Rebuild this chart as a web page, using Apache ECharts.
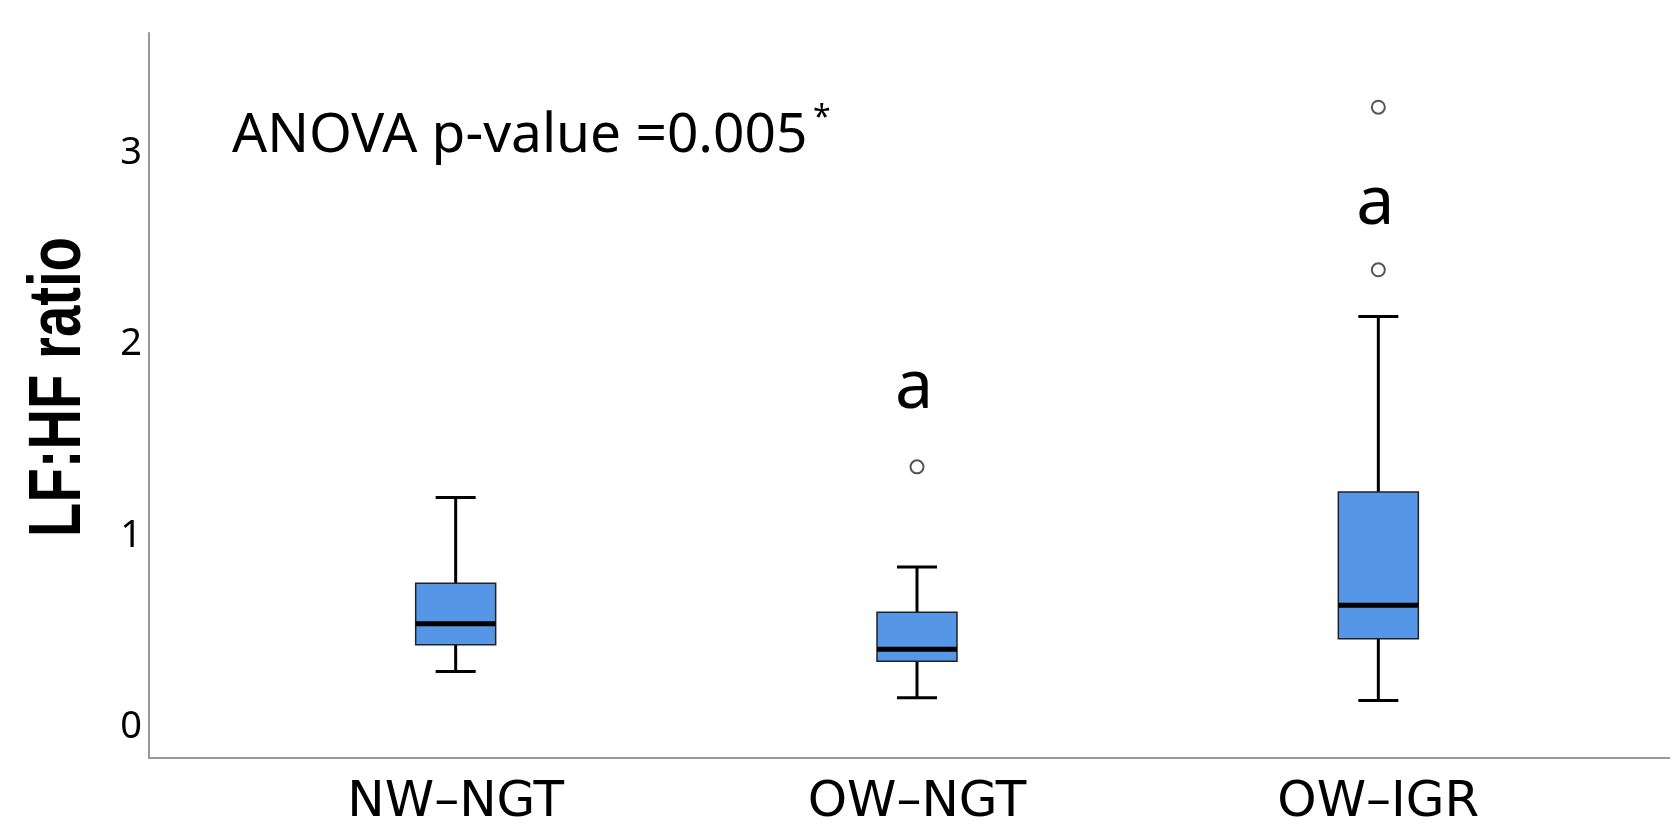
<!DOCTYPE html>
<html><head><meta charset="utf-8">
<script src="https://cdn.jsdelivr.net/npm/echarts@6/dist/echarts.min.js"></script>
<style>html,body{margin:0;padding:0;background:#fff}#chart{width:1670px;height:828px}</style>
</head><body><div id="chart"></div>
<script>
// ---- data ----
const categories = ['NW–NGT', 'OW–NGT', 'OW–IGR'];
const whiskerLow  = [0.29, 0.153, 0.139];
const q1          = [0.43, 0.344, 0.462];
const median      = [0.54, 0.407, 0.637];
const q3          = [0.752, 0.60, 1.229];
const whiskerHigh = [1.20, 0.836, 2.146];
const outliers = [['OW–NGT', 1.36], ['OW–IGR', 3.24], ['OW–IGR', 2.39]];
const letterMarks = [['OW–NGT', 1.77, 'a'], ['OW–IGR', 2.73, 'a']];
const yTicks = [0, 1, 2, 3];
const yMin = -0.162, yMax = 3.628;
const yTitle = 'LF:HF ratio';
const anovaText = 'ANOVA p-value =0.005';

// ---- chart ----
const chart = echarts.init(document.getElementById('chart'), null, {renderer: 'canvas'});
const boxData = categories.map((c, i) => [i, whiskerLow[i], q1[i], median[i], q3[i], whiskerHigh[i]]);

function renderBox(params, api) {
  const x = api.value(0);
  const pLow = api.coord([x, api.value(1)]);
  const pQ1 = api.coord([x, api.value(2)]);
  const pMed = api.coord([x, api.value(3)]);
  const pQ3 = api.coord([x, api.value(4)]);
  const pHigh = api.coord([x, api.value(5)]);
  const cx = pLow[0], half = 40, capHalf = 20;
  const ws = {stroke: '#000', lineWidth: 3};
  return {
    type: 'group',
    children: [
      {type: 'line', shape: {x1: cx, y1: pHigh[1], x2: cx, y2: pQ3[1]}, style: ws},
      {type: 'line', shape: {x1: cx, y1: pQ1[1], x2: cx, y2: pLow[1]}, style: ws},
      {type: 'line', shape: {x1: cx - capHalf, y1: pHigh[1], x2: cx + capHalf, y2: pHigh[1]}, style: ws},
      {type: 'line', shape: {x1: cx - capHalf, y1: pLow[1], x2: cx + capHalf, y2: pLow[1]}, style: ws},
      {type: 'rect', shape: {x: cx - half, y: pQ3[1], width: half * 2, height: pQ1[1] - pQ3[1]},
        style: {fill: '#5596E6', stroke: '#222', lineWidth: 1.5}},
      {type: 'line', shape: {x1: cx - half, y1: pMed[1], x2: cx + half, y2: pMed[1]},
        style: {stroke: '#000', lineWidth: 5}}
    ]
  };
}

const option = {
  backgroundColor: '#fff',
  animation: false,
  grid: [
    {left: 149, right: 0, top: 33, bottom: 70},
    {left: 225, right: 61, top: 33, bottom: 70}
  ],
  xAxis: [
    {gridIndex: 0, type: 'value', min: 0, max: 1,
      axisLine: {show: true, onZero: false, lineStyle: {color: '#999', width: 2}},
      axisTick: {show: false}, axisLabel: {show: false}, splitLine: {show: false}},
    {gridIndex: 1, type: 'category', data: categories,
      axisLine: {show: false}, axisTick: {show: false}, splitLine: {show: false},
      axisLabel: {fontFamily: 'DejaVu Sans', fontSize: 50, color: '#000', margin: 20}}
  ],
  yAxis: [
    {gridIndex: 0, type: 'value', min: yMin, max: yMax,
      axisLine: {show: true, onZero: false, lineStyle: {color: '#999', width: 2}},
      axisTick: {show: false}, splitLine: {show: false},
      axisLabel: {customValues: yTicks, fontFamily: 'Noto Sans', fontSize: 38, color: '#000', margin: 7}},
    {gridIndex: 1, type: 'value', min: yMin, max: yMax, show: false}
  ],
  series: [
    {type: 'custom', xAxisIndex: 1, yAxisIndex: 1, data: boxData, renderItem: renderBox,
      encode: {x: 0, y: [1, 2, 3, 4, 5]}, z: 2},
    {type: 'scatter', xAxisIndex: 1, yAxisIndex: 1, data: outliers, symbol: 'circle', symbolSize: 13,
      itemStyle: {color: '#fff', borderColor: '#555', borderWidth: 2, opacity: 1}, emphasis: {disabled: true}, z: 3},
    {type: 'scatter', xAxisIndex: 1, yAxisIndex: 1, data: letterMarks, symbolSize: 0,
      itemStyle: {opacity: 1}, emphasis: {disabled: true},
      label: {show: true, position: 'inside', offset: [-3, 0], formatter: p => p.data[2],
        fontFamily: 'Noto Sans', fontSize: 68, color: '#000', opacity: 1}, z: 4}
  ],
  graphic: [
    {type: 'text', left: 232, top: 109, style: {text: anovaText, fontFamily: 'Noto Sans', fontSize: 55, fill: '#000'}},
    {type: 'text', left: 813, top: 103, style: {text: '*', fontFamily: 'Noto Sans', fontSize: 32, fill: '#000'}},
    {type: 'text', x: 59, y: 387, rotation: Math.PI / 2, scaleX: 0.75,
      style: {text: yTitle, x: 0, y: 0, align: 'center', verticalAlign: 'middle',
        fontFamily: 'Liberation Sans', fontWeight: 'bold', fontSize: 75, fill: '#000'}}
  ]
};
chart.setOption(option);
</script>
</body></html>
